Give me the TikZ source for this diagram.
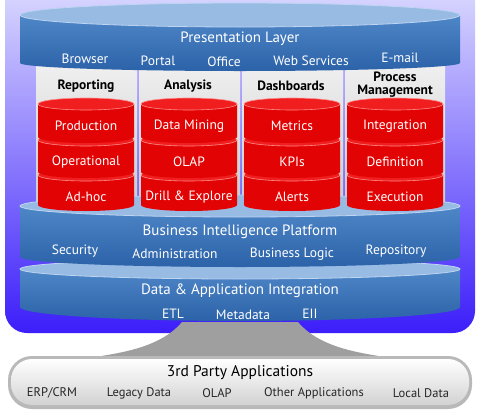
\documentclass[tikz,border=0pt]{standalone}
\usepackage{fontspec}
\setmainfont{PT Sans}
\definecolor{backTop}{RGB}{226,226,255}
\definecolor{backMid}{RGB}{150,150,255}
\definecolor{backBot}{RGB}{60,30,250}
\definecolor{drumTop}{RGB}{152,187,228}
\definecolor{drumRim}{RGB}{190,212,240}
\definecolor{drumHi}{RGB}{78,135,200}
\definecolor{drumLo}{RGB}{44,98,168}
\definecolor{redBody}{RGB}{226,4,4}
\definecolor{redTop}{RGB}{240,30,30}
\definecolor{redRim}{RGB}{255,140,140}
\definecolor{colHi}{RGB}{242,242,242}
\definecolor{colLo}{RGB}{200,200,204}
% cylinder: left x, right x, top y, bottom y, top radius, bottom radius, body style, lid style
\newcommand{\drum}[8]{%
  \path[#7] (#1,#3) -- (#1,#4)
    arc[start angle=180,end angle=360,x radius={(#2-#1)/2},y radius=#6]
    -- (#2,#3) -- cycle;
  \path[#8] ({(#1+#2)/2},#3) ellipse[x radius={(#2-#1)/2},y radius=#5];}
\tikzset{
  bluebody/.style={top color=drumHi,bottom color=drumLo},
  bluelid/.style={fill=drumTop,draw=drumRim,line width=0.8pt},
  redbody/.style={fill=redBody},
  redlid/.style={fill=redTop,draw=redRim,line width=0.6pt},
  column/.style={top color=colHi,bottom color=colLo},
  title/.style={text=white,inner sep=0pt,font=\fontsize{15}{15}\selectfont},
  sublabel/.style={text=white,inner sep=0pt,font=\fontsize{13.5}{14}\selectfont},
  redlabel/.style={text=white,inner sep=0pt,font=\fontsize{13.5}{14}\selectfont},
  heading/.style={text=black,inner sep=0pt,font=\fontsize{13.5}{14}\selectfont\bfseries},
  greytitle/.style={text=black,inner sep=0pt,font=\fontsize{15.5}{16}\selectfont},
  greylabel/.style={text=black!85,inner sep=0pt,font=\fontsize{12.5}{13}\selectfont},
}
\begin{document}
\begin{tikzpicture}[x=1pt,y=1pt]
\useasboundingbox (0,0) rectangle (480,-413);
\fill[white] (0,0) rectangle (480,-413);

% blue backdrop
\shade[rounded corners=22pt,top color=backTop,middle color=backMid,bottom color=backBot]
  (5,30) rectangle (475,-333);

% funnel down to third-party layer
\shade[left color=gray!75,middle color=gray!22,right color=gray!75]
  (182,-322) -- (298,-322) .. controls (320,-348) and (360,-354) .. (408,-360)
  -- (72,-360) .. controls (120,-354) and (160,-348) .. (182,-322) -- cycle;

% third-party applications pill
\fill[gray!55,rounded corners=24pt] (8,-356) rectangle (472,-409);
\shade[rounded corners=21pt,top color=white,bottom color=gray!35] (11,-359) rectangle (469,-405);

% grey service columns
\fill[column] (36,-55) rectangle (137,-215);
\fill[column] (139,-55) rectangle (240,-215);
\fill[column] (242,-55) rectangle (343,-215);
\fill[column] (345,-55) rectangle (445,-215);

% data & application integration
\drum{20}{460}{-269}{-307}{10}{14}{bluebody}{bluelid}
% business intelligence platform
\drum{20}{460}{-206}{-257}{11}{10}{bluebody}{bluelid}

% red stacks, lower segments first
\foreach \xa/\xb in {38/134, 141/237, 244/340, 347/443}{
  \drum{\xa}{\xb}{-175}{-205}{6}{6}{redbody}{redlid}
  \drum{\xa}{\xb}{-140}{-172}{6}{6}{redbody}{redlid}
  \drum{\xa}{\xb}{-104}{-137}{6}{6}{redbody}{redlid}
}

% presentation layer
\drum{20}{460}{-15}{-63}{12}{8}{bluebody}{bluelid}

% presentation layer texts
\node[title] (pres) at (240,-39) {Presentation Layer};
\node[sublabel] (browser) at (85,-59) {Browser};
\node[sublabel] (portal) at (158,-61) {Portal};
\node[sublabel] (office) at (224,-62) {Office};
\node[sublabel] (websvc) at (311,-61) {Web Services};
\node[sublabel] (email) at (400,-58) {E-mail};

% column headings
\node[heading] (reporting) at (86,-86) {Reporting};
\node[heading] (analysis) at (188,-86) {Analysis};
\node[heading] (dashboards) at (291,-86) {Dashboards};
\node[heading,anchor=base] (process) at (395,-81) {Process};
\node[heading,anchor=base] (management) at (395,-94) {Management};

% red stack labels
\node[redlabel] (production) at (86,-126) {Production};
\node[redlabel] (operational) at (86,-162) {Operational};
\node[redlabel] (adhoc) at (86,-197) {Ad-hoc};
\node[redlabel] (datamining) at (189,-126) {Data Mining};
\node[redlabel] (olap) at (189,-162) {OLAP};
\node[redlabel] (drill) at (189,-197) {Drill \& Explore};
\node[redlabel] (metrics) at (292,-126) {Metrics};
\node[redlabel] (kpis) at (292,-162) {KPIs};
\node[redlabel] (alerts) at (292,-197) {Alerts};
\node[redlabel] (integration) at (395,-126) {Integration};
\node[redlabel] (definition) at (395,-162) {Definition};
\node[redlabel] (execution) at (395,-197) {Execution};

% business intelligence platform texts
\node[title] (bip) at (240,-232) {Business Intelligence Platform};
\node[sublabel] (security) at (75,-251) {Security};
\node[sublabel] (admin) at (175,-254) {Administration};
\node[sublabel] (logic) at (292,-254) {Business Logic};
\node[sublabel] (repo) at (396,-251) {Repository};

% data & application integration texts
\node[title] (dai) at (240,-291) {Data \& Application Integration};
\node[sublabel] (etl) at (173,-314) {ETL};
\node[sublabel] (meta) at (243,-315) {Metadata};
\node[sublabel] (eii) at (310,-314) {EII};

% third-party texts
\node[greytitle] (third) at (240,-373) {3rd Party Applications};
\node[greylabel] (erp) at (52,-393) {ERP/CRM};
\node[greylabel] (legacy) at (139,-393) {Legacy Data};
\node[greylabel] (olap3) at (217,-393) {OLAP};
\node[greylabel] (other) at (314,-393) {Other Applications};
\node[greylabel] (local) at (421,-393) {Local Data};
\end{tikzpicture}
\end{document}
